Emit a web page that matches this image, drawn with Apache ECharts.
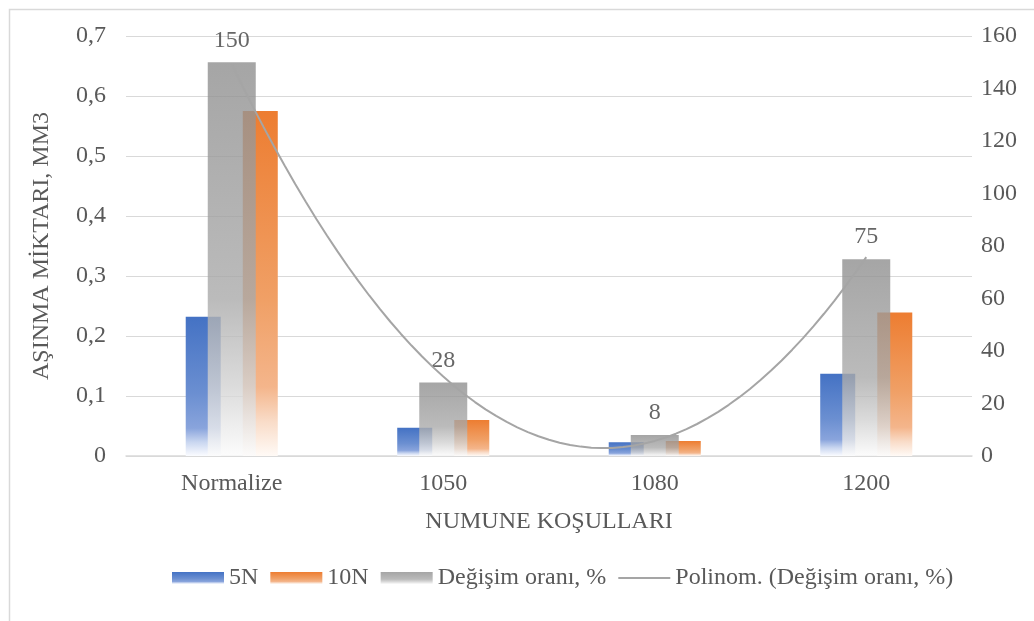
<!DOCTYPE html>
<html>
<head>
<meta charset="utf-8">
<script src="https://cdn.jsdelivr.net/npm/echarts@6/dist/echarts.min.js"></script>
<style>
  html, body { margin: 0; padding: 0; background: #ffffff; }
  #chart { width: 1034px; height: 621px; }
</style>
</head>
<body>
<div id="chart"></div>
<script>
// ---- data ----
const categories = ['Normalize', '1050', '1080', '1200'];
const series5N = [0.232, 0.047, 0.023, 0.137];
const series10N = [0.575, 0.060, 0.025, 0.239];
const changeRate = [150, 28, 8, 75];
const leftTicks = { min: 0, max: 0.7, interval: 0.1 };
const rightTicks = { min: 0, max: 160, interval: 20 };
const seriesNames = ['5N', '10N', 'Değişim oranı, %', 'Polinom. (Değişim oranı, %)'];
const axisNames = { x: 'NUMUNE KOŞULLARI', y: 'AŞINMA MİKTARI, MM3' };

// ---- quadratic least-squares trendline (like Excel "Polinom." order 2) ----
function polyFit2(ys) {
  const xs = ys.map((_, i) => i + 1);
  let S = [0, 0, 0, 0, 0], T = [0, 0, 0];
  xs.forEach((x, i) => {
    for (let k = 0; k < 5; k++) S[k] += Math.pow(x, k);
    for (let k = 0; k < 3; k++) T[k] += Math.pow(x, k) * ys[i];
  });
  const A = [[S[0], S[1], S[2], T[0]], [S[1], S[2], S[3], T[1]], [S[2], S[3], S[4], T[2]]];
  for (let c = 0; c < 3; c++) {
    for (let r = c + 1; r < 3; r++) {
      const f = A[r][c] / A[c][c];
      for (let k = c; k < 4; k++) A[r][k] -= f * A[c][k];
    }
  }
  const coef = [0, 0, 0];
  for (let r = 2; r >= 0; r--) {
    let s = A[r][3];
    for (let k = r + 1; k < 3; k++) s -= A[r][k] * coef[k];
    coef[r] = s / A[r][r];
  }
  return coef;
}
const coef = polyFit2(changeRate);
const trendPts = [];
for (let x = 1; x <= changeRate.length + 1e-9; x += 0.05) {
  trendPts.push([x, coef[0] + coef[1] * x + coef[2] * x * x]);
}

const FONT = 'Liberation Serif';
const TXT = '#595959';

function grad(stops) {
  return new echarts.graphic.LinearGradient(0, 0, 0, 1,
    stops.map(s => ({ offset: s[0], color: s[1] })));
}
const blueGrad = grad([[0, '#4472C4'], [0.55, '#6b8fd1'], [0.8, '#89a4dc'], [0.9, '#c9d6f0'], [1, '#fbfcff']]);
const orangeGrad = grad([[0, '#ED7D31'], [0.55, '#f0a066'], [0.8, '#f4b58b'], [0.9, '#f9dcc8'], [1, '#fffaf6']]);
const grayGrad = grad([[0, '#8f8f8f'], [0.6, '#aaaaaa'], [0.82, '#d2d2d2'], [1, '#fbfbfb']]);
const lineIcon = 'path://M0,0 L0.01,0 L0.01,0.01 Z M0,5 L52,5 L52,7 L0,7 Z M0,12 L0.01,12 L0.01,11.99 Z';

const chart = echarts.init(document.getElementById('chart'), null, { renderer: 'canvas' });
chart.setOption({
  backgroundColor: '#ffffff',
  animation: false,
  textStyle: { fontFamily: FONT },
  graphic: [{
    type: 'rect', left: 7, top: 7, z: -10,
    shape: { x: 0, y: 0, width: 1060, height: 700 },
    style: { fill: 'none', stroke: '#d9d9d9', lineWidth: 1.5 }
  }],
  grid: { left: 126, right: 62, top: 36, bottom: 165, containLabel: false },
  legend: {
    left: 167, top: 561,
    itemWidth: 52, itemHeight: 12, itemGap: 12,
    textStyle: { fontFamily: FONT, fontSize: 24, color: TXT },
    data: [
      { name: seriesNames[0], icon: 'rect' },
      { name: seriesNames[1], icon: 'rect' },
      { name: seriesNames[2], icon: 'rect' },
      { name: seriesNames[3], icon: lineIcon, itemStyle: { color: '#a5a5a5', borderWidth: 0 } }
    ]
  },
  xAxis: [
    {
      type: 'category', data: categories,
      name: axisNames.x, nameLocation: 'middle', nameGap: 54,
      nameTextStyle: { fontFamily: FONT, fontSize: 24, color: TXT },
      axisLine: { show: true, lineStyle: { color: '#d9d9d9', width: 1.5 } },
      axisTick: { show: false },
      axisLabel: { fontFamily: FONT, fontSize: 24, color: TXT, margin: 16 }
    },
    { type: 'category', data: categories, show: false },
    { type: 'value', min: 0.5, max: categories.length + 0.5, show: false }
  ],
  yAxis: [
    {
      type: 'value', min: leftTicks.min, max: leftTicks.max, interval: leftTicks.interval,
      name: axisNames.y, nameLocation: 'middle', nameGap: 72, nameRotate: 90,
      nameTextStyle: { fontFamily: FONT, fontSize: 24, color: TXT },
      axisLine: { show: false }, axisTick: { show: false },
      splitLine: { lineStyle: { color: '#d9d9d9', width: 1.2 } },
      axisLabel: {
        fontFamily: FONT, fontSize: 24, color: TXT, margin: 20,
        formatter: v => (Math.round(v * 10) / 10).toString().replace('.', ',')
      }
    },
    {
      type: 'value', min: rightTicks.min, max: rightTicks.max, interval: rightTicks.interval,
      position: 'right',
      axisLine: { show: false }, axisTick: { show: false },
      splitLine: { show: false },
      axisLabel: { fontFamily: FONT, fontSize: 24, color: TXT, margin: 9 }
    }
  ],
  series: [
    {
      name: seriesNames[0], type: 'bar', xAxisIndex: 0, yAxisIndex: 0,
      data: series5N, barWidth: 35, barGap: '63%',
      itemStyle: { color: blueGrad }, z: 2
    },
    {
      name: seriesNames[1], type: 'bar', xAxisIndex: 0, yAxisIndex: 0,
      data: series10N, barWidth: 35, barGap: '63%',
      itemStyle: { color: orangeGrad }, z: 2
    },
    {
      name: seriesNames[2], type: 'bar', xAxisIndex: 1, yAxisIndex: 1,
      data: changeRate, barWidth: 48,
      itemStyle: { color: grayGrad, opacity: 0.8 }, z: 3,
      label: {
        show: true, position: 'top', distance: 10,
        fontFamily: FONT, fontSize: 24, color: '#404040'
      }
    },
    {
      name: seriesNames[3], type: 'line', xAxisIndex: 2, yAxisIndex: 1,
      data: trendPts, symbol: 'none', showSymbol: false, smooth: false, z: 4,
      lineStyle: { color: '#a5a5a5', width: 2 },
      itemStyle: { color: '#a5a5a5' }
    }
  ]
});
</script>
</body>
</html>
